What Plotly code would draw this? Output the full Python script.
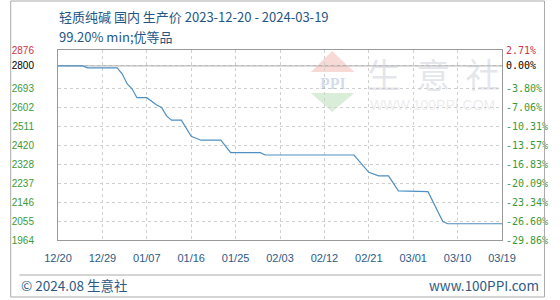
import plotly.graph_objects as go

# ---- data ----
dates = ["2023-12-20", "2023-12-25", "2023-12-26", "2024-01-01", "2024-01-02", "2024-01-03",
         "2024-01-04", "2024-01-05", "2024-01-07", "2024-01-09", "2024-01-10", "2024-01-11",
         "2024-01-12", "2024-01-14", "2024-01-16", "2024-01-18", "2024-01-22", "2024-01-24",
         "2024-01-30", "2024-01-31", "2024-02-18", "2024-02-21", "2024-02-23", "2024-02-25",
         "2024-02-27", "2024-03-04", "2024-03-07", "2024-03-08", "2024-03-19"]
prices = [2800, 2800, 2790, 2790, 2762, 2714,
          2690, 2647, 2647, 2612, 2600, 2560,
          2539, 2539, 2462, 2443, 2443, 2383,
          2383, 2372, 2372, 2289, 2272, 2272,
          2200, 2196, 2053, 2042, 2042]

y_ticks = [1964, 2055.2, 2146.4, 2237.6, 2328.8, 2420, 2511.2, 2602.4, 2693.6, 2800, 2876]
y_labels = ["1964", "2055", "2146", "2237", "2328", "2420", "2511", "2602", "2693", "2800", "2876"]
pct_labels = ["-29.86%", "-26.60%", "-23.34%", "-20.09%", "-16.83%", "-13.57%", "-10.31%",
              "-7.06%", "-3.80%", "0.00%", "2.71%"]
x_ticks = ["2023-12-20", "2023-12-29", "2024-01-07", "2024-01-16", "2024-01-25", "2024-02-03",
           "2024-02-12", "2024-02-21", "2024-03-01", "2024-03-10", "2024-03-19"]
base_price = 2800
title_text = "轻质纯碱 国内 生产价 2023-12-20 - 2024-03-19"
subtitle_text = "99.20% min;优等品"

GREEN = "#3a9a3a"
RED = "#cc3344"


def colored(labels, vals):
    out = []
    for lab, v in zip(labels, vals):
        if v > base_price:
            c = RED
        elif v == base_price:
            c = "#000000"
        else:
            c = GREEN
        out.append(f"<span style='color:{c}'>{lab}</span>")
    return out


L, R, T, B = 50, 50, 50, 60
W, H = 560, 300
PW, PH = W - L - R, H - T - B


def px(x):
    return (x - L) / PW


def py(y):
    return (H - B - y) / PH


fig = go.Figure()
fig.add_trace(go.Scatter(x=dates, y=prices, mode="lines",
                         line=dict(color="#4f8fc2", width=1.2), showlegend=False))
fig.add_trace(go.Scatter(x=dates, y=prices, mode="lines", yaxis="y2",
                         line=dict(color="rgba(0,0,0,0)", width=0), showlegend=False,
                         hoverinfo="skip"))

yr = [y_ticks[0], y_ticks[-1]]
fig.update_layout(
    width=W, height=H,
    margin=dict(l=L, r=R, t=T, b=B),
    paper_bgcolor="white", plot_bgcolor="white",
    font=dict(family="Noto Sans CJK SC, sans-serif"),
    xaxis=dict(
        type="date", range=["2023-12-20", "2024-03-19"],
        tickvals=x_ticks, tickformat="%m/%d",
        tickfont=dict(family="Liberation Sans, Arial", size=11, color="#2d5a84"),
        showgrid=True, gridcolor="#cfcfcf", griddash="dot", gridwidth=1,
        showline=True, linecolor="#999999", mirror=True,
        ticks="", ticklabelstandoff=8, zeroline=False,
    ),
    yaxis=dict(
        range=yr, tickvals=y_ticks, ticktext=colored(y_labels, y_ticks),
        tickfont=dict(family="Liberation Sans, Arial", size=10),
        showgrid=True, gridcolor="#cfcfcf", griddash="dot", gridwidth=1,
        showline=True, linecolor="#999999", mirror=True,
        ticks="", ticklabelstandoff=21, zeroline=False,
    ),
    yaxis2=dict(
        range=yr, overlaying="y", side="right", tickvals=y_ticks,
        ticktext=colored(pct_labels, y_ticks),
        tickfont=dict(family="DejaVu Sans Mono, monospace", size=10),
        showgrid=False, ticks="", ticklabelstandoff=3, zeroline=False,
    ),
)

# base line at 2800
fig.add_shape(type="line", xref="paper", yref="y", x0=0, x1=1, y0=base_price, y1=base_price,
              line=dict(color="#999999", width=1), layer="below")

# watermark
fig.add_shape(type="path", xref="paper", yref="paper",
              path=f"M {px(312)} {py(72)} L {px(334)} {py(51)} L {px(357)} {py(72)} Z",
              fillcolor="rgba(230,130,120,0.3)", line=dict(width=0), layer="below")
fig.add_shape(type="path", xref="paper", yref="paper",
              path=f"M {px(312)} {py(93)} L {px(334)} {py(112)} L {px(357)} {py(93)} Z",
              fillcolor="rgba(130,195,130,0.3)", line=dict(width=0), layer="below")
fig.add_annotation(x=px(335), y=py(83), xref="paper", yref="paper", text="<b>PPI</b>",
                   xanchor="center", yanchor="middle",
                   showarrow=False, font=dict(family="Liberation Serif", size=16,
                                              color="rgba(130,150,195,0.35)"))
fig.add_annotation(x=px(438), y=py(74), xref="paper", yref="paper", text="生  意  社",
                   xanchor="center", yanchor="middle",
                   showarrow=False, font=dict(family="Noto Sans CJK SC", size=34,
                                              color="rgba(195,200,210,0.45)"))
fig.add_annotation(x=px(438), y=py(105), xref="paper", yref="paper", text="WWW.100PPI.COM",
                   xanchor="center", yanchor="middle",
                   showarrow=False, font=dict(family="Liberation Sans", size=14,
                                              color="rgba(200,200,205,0.35)"))

# titles
fig.add_annotation(x=px(49), y=py(16), xref="paper", yref="paper", text=title_text,
                   xanchor="left", yanchor="middle", showarrow=False,
                   font=dict(family="Noto Sans CJK SC", size=13, color="#245785"))
fig.add_annotation(x=px(49), y=py(36), xref="paper", yref="paper", text=subtitle_text,
                   xanchor="left", yanchor="middle", showarrow=False,
                   font=dict(family="Noto Sans CJK SC", size=13, color="#245785"))

# footer
fig.add_shape(type="line", xref="paper", yref="paper", x0=px(10), x1=px(551),
              y0=py(275), y1=py(275), line=dict(color="#aaaaaa", width=1))
fig.add_shape(type="rect", xref="paper", yref="paper", x0=px(1), x1=px(554),
              y0=py(297), y1=py(1), line=dict(color="#aaaaaa", width=1))
fig.add_annotation(x=px(10), y=py(285), xref="paper", yref="paper", text="© 2024.08 生意社",
                   xanchor="left", yanchor="middle", showarrow=False,
                   font=dict(family="Noto Sans CJK SC", size=13.5, color="#2d5a84"))
fig.add_annotation(x=px(550), y=py(285), xref="paper", yref="paper", text="www.100PPI.com",
                   xanchor="right", yanchor="middle", showarrow=False,
                   font=dict(family="Noto Sans CJK SC", size=13.5, color="#2d5a84"))

fig.write_html("out.html")
